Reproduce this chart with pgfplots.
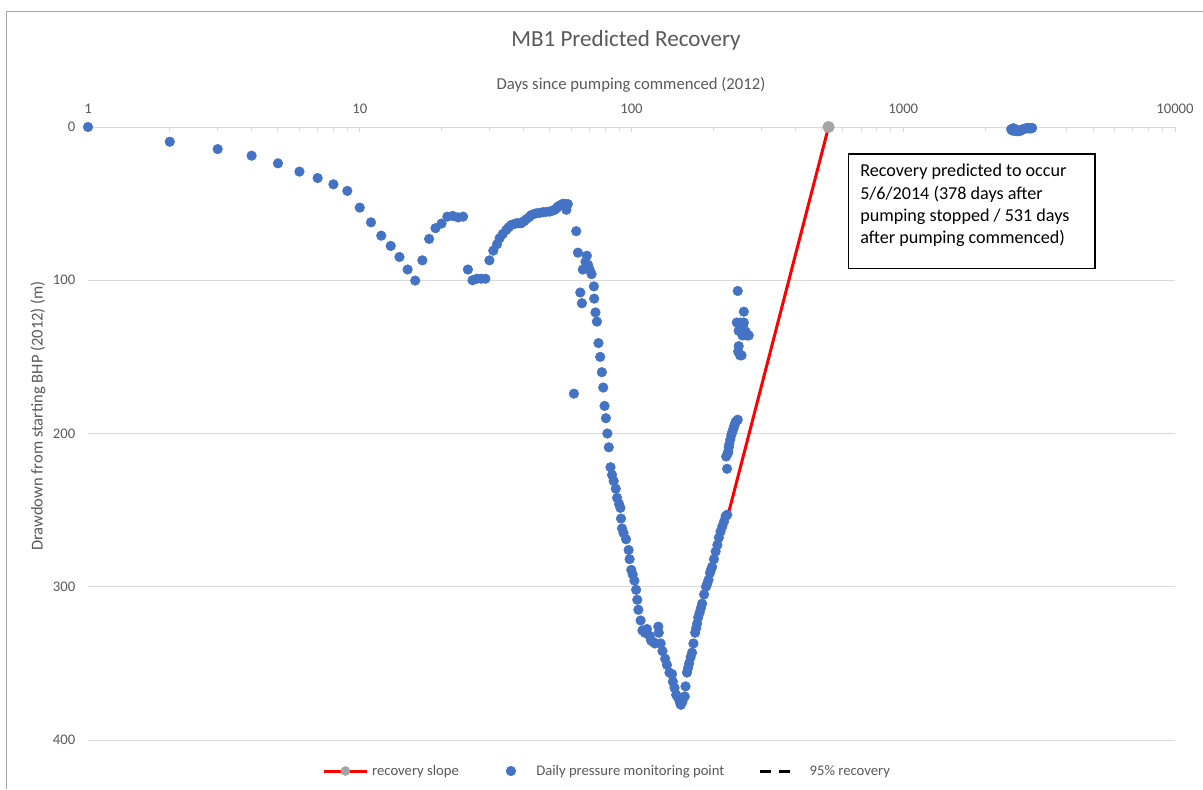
\documentclass[border=0pt]{standalone}
\usepackage{pgfplots}
\pgfplotsset{compat=1.18}
\usepackage{fontspec}
\setmainfont{Carlito}
\definecolor{ptblue}{HTML}{4472C4}
\definecolor{txtgray}{HTML}{595959}
\definecolor{gridgray}{HTML}{D9D9D9}
\definecolor{mkgray}{HTML}{A5A5A5}
\begin{document}
\begin{tikzpicture}
\useasboundingbox (-66pt,-36.75pt) rectangle (836.25pt,555pt);
\draw[color=mkgray,line width=0.75pt] (-61.1pt,-36.75pt) -- (-61.1pt,546.4pt) -- (836.25pt,546.4pt);
\begin{axis}[
  at={(0,0)},anchor=south west,scale only axis,
  width=815.25pt,height=459.75pt,
  xmode=log,xmin=1,xmax=10000,
  ymin=0,ymax=400,y dir=reverse,
  xtick={1,10,100,1000,10000},
  xticklabels={1,10,100,1000,10000},
  minor xtick={2,3,4,5,6,7,8,9,20,30,40,50,60,70,80,90,200,300,400,500,600,700,800,900,2000,3000,4000,5000,6000,7000,8000,9000},
  ytick={0,100,200,300,400},
  xtick pos=right,xticklabel pos=right,
  ytick style={draw=none},
  xtick style={draw=gridgray,line width=0.75pt},
  major tick length=4pt,minor tick length=3pt,
  axis line style={draw=none},
  ymajorgrids,grid style={gridgray,line width=0.75pt},
  tick label style={font=\fontsize{11}{13}\selectfont,text=txtgray},
  /pgf/number format/assume math mode=true,
  xticklabel style={yshift=6.5pt},
  yticklabel style={xshift=-6pt},
  legend style={at={(0.478,-0.0506)},anchor=center,draw=none,font=\fontsize{11}{13}\selectfont,text=txtgray,legend columns=3,
    /tikz/every odd column/.append style={column sep=1pt},
    /tikz/every even column/.append style={column sep=21pt}},
  legend cell align=left,
]
\addplot[red,line width=2.25pt,mark=*,mark size=3.4pt,mark options={draw=mkgray,fill=mkgray},mark indices={2},forget plot] coordinates {(227,252.6) (531,0)};
\addplot[only marks,mark=*,mark size=3.6pt,color=ptblue,forget plot] coordinates {
(1,0) (2,9.6) (3,14.4) (4,18.7) (5,23.7) (6,29.1) (7,33.3) (8,37.4) (9,41.7) (10,52.6)
(11,62.2) (12,70.9) (13,77.6) (14,84.8) (15,93) (16,100.2) (17,87) (18,73) (19,66) (20,63)
(21,58.5) (22,58) (23,59) (24,58.5) (25,93) (26,100) (27,99) (28,99) (29,99) (30,87)
(31,80.7) (32,76.5) (32.7,72.6) (33.6,69.8) (34.6,67.2) (35.3,65.5) (36.1,63.9) (37,63.3)
(37.7,62.8) (38.5,62.8) (39.3,62.8) (40.2,61.5) (41,60.2) (42,58.8) (42.8,57.4) (43.7,56.8)
(44.6,56.3) (46,56) (47.2,55.6) (48.5,55.4) (49.9,55.2) (51,54.7) (52.1,54.1) (53,53)
(53.6,51.9) (54.7,51) (55.9,50.1) (57,50.2) (58.3,50.3) (57.6,54)
(61.4,174) (62.6,68) (63.5,82) (64.8,108) (65.7,115) (66.2,93) (67.7,88) (68.5,84) (69.2,90)
(70.1,93) (71.3,96) (72.7,104) (72.9,112) (73.7,121) (74.6,127) (75.6,141) (76.7,150)
(77.8,160) (78.7,170) (79.6,182) (80.5,190) (81.5,200) (82.5,209) (83.7,222) (84.8,227)
(86,231) (87.5,236) (88.5,242) (90,246) (91,248.5) (91.5,255.5) (92.3,262) (93.5,265)
(95.5,269) (97.6,276) (98.4,282) (99.8,289) (101,292) (102.5,296) (104,302) (105,308.5)
(106,315) (108,322) (109.7,328.5) (112,330) (114,327.6) (116.6,332) (118,335) (120,336)
(122,337) (125.5,326) (126,330) (128,337) (130,342) (133,347) (135,351) (138,356) (141,357)
(142,362) (144,366) (146,370.5) (148,372) (150,374) (151,376) (152,377) (154,375)
(157,371.6) (158,365) (160,356) (161.5,353) (163,350) (165,346) (167,343) (169,337)
(171.5,330) (173,327) (174.5,324) (176,320) (178,317) (180,314) (182,311) (185,305)
(188,300) (190,298) (192,295.5) (194.5,291) (196,289) (198,287) (201,282) (204,277)
(207,272.7) (209.6,268) (212.6,264) (215.8,260.7) (219,257.5) (222,254) (225,253)
(224.7,223) (223,215) (226,213) (227,212) (228,209) (229,207) (231,204) (233,201)
(235,199) (237,197) (239,195) (241,193) (243,192) (246,191)
(246,107) (259,120.5) (244,127.6) (252,127.6) (259,127.6) (248,133) (263,133.5) (270,136)
(266,136) (248,143) (247,146.6) (251,149) (254,149) (256,136) (257,130)
(2495,1.5) (2520,2.3) (2545,0.8) (2570,2.5) (2600,1.8) (2630,2.8) (2660,2.2) (2690,2.6)
(2720,2.0) (2750,1.6) (2780,1.2) (2810,1.0) (2840,0.8) (2870,0.6) (2900,1.0) (2930,0.7) (2960,0.9) (2980,0.6)
};
\addlegendimage{legend image code/.code={\draw[red,line width=2.25pt] (0pt,0pt) -- (32pt,0pt); \fill[mkgray] (16pt,0pt) circle (3.4pt);}}
\addlegendentry{recovery slope}
\addlegendimage{legend image code/.code={\fill[ptblue] (16pt,0pt) circle (3.6pt); \path[draw=none] (0pt,0pt) -- (32pt,0pt);}}
\addlegendentry{Daily pressure monitoring point}
\addlegendimage{legend image code/.code={\draw[black,line width=2.25pt,dash pattern=on 8pt off 6pt] (4pt,0pt) -- (30pt,0pt); \path[draw=none] (0pt,0pt) -- (38pt,0pt);}}
\addlegendentry{95\% recovery}
\end{axis}
\node[text=txtgray,font=\fontsize{17.3}{20}\selectfont] at (403.5pt,525pt) {MB1 Predicted Recovery};
\node[text=txtgray,font=\fontsize{12.5}{15}\selectfont] at (407.25pt,491.25pt) {Days since pumping commenced (2012)};
\node[text=txtgray,font=\fontsize{12.4}{15}\selectfont,rotate=90] at (-37.5pt,243pt) {Drawdown from starting BHP (2012) (m)};
\node[draw=black,line width=1.1pt,fill=white,anchor=north west,inner sep=0pt,minimum width=185pt,minimum height=86pt] at (569.8pt,440pt) {};
\node[anchor=north west,inner sep=0pt,align=left,font=\fontsize{13.6}{16.7}\selectfont] at (579pt,432pt) {Recovery predicted to occur\\5/6/2014 (378 days after\\pumping stopped / 531 days\\after pumping commenced)};
\end{tikzpicture}
\end{document}
